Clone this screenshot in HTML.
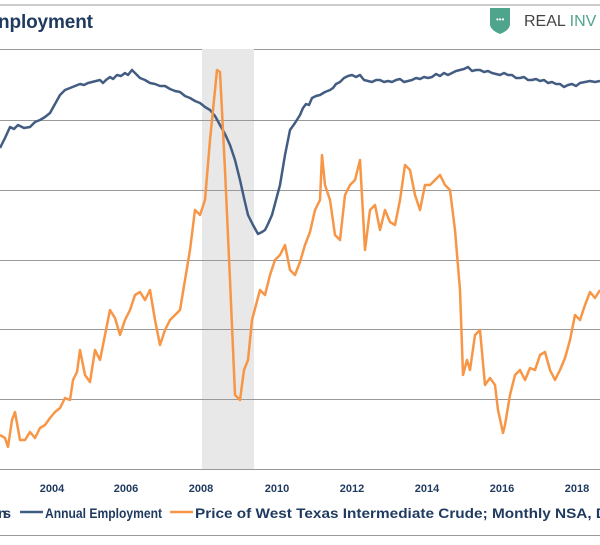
<!DOCTYPE html>
<html><head><meta charset="utf-8"><style>
body{margin:0;width:600px;height:540px;background:#fff;overflow:hidden;font-family:"Liberation Sans",sans-serif}
</style></head><body>
<svg width="600" height="540" xmlns="http://www.w3.org/2000/svg">
<line x1="0" y1="5" x2="600" y2="5" stroke="#999" stroke-width="1"/>
<text x="-2" y="28" font-family="Liberation Sans, sans-serif" font-weight="bold" font-size="19" fill="#1f3a5f" textLength="95">nployment</text>
<path d="M490 8 L510 8 L510 24 Q510 30 500 34 Q490 30 490 24 Z" fill="#4fa58c"/>
<text x="496" y="22" font-size="8" fill="#fff">•••</text>
<text x="524" y="26" font-size="16" fill="#444">REAL <tspan fill="#4fa58c">INV</tspan></text>
<rect x="202" y="49" width="52" height="420" fill="#e8e8e8"/>
<g stroke="#999" stroke-width="1">
<line x1="0" y1="49.5" x2="202" y2="49.5"/><line x1="254" y1="49.5" x2="600" y2="49.5"/>
<line x1="0" y1="120.5" x2="600" y2="120.5"/><line x1="0" y1="190.5" x2="600" y2="190.5"/>
<line x1="0" y1="260.5" x2="600" y2="260.5"/><line x1="0" y1="329.5" x2="600" y2="329.5"/>
<line x1="0" y1="399.5" x2="600" y2="399.5"/><line x1="0" y1="469.5" x2="600" y2="469.5"/>
<line x1="0" y1="535.5" x2="600" y2="535.5"/>
</g>
<polyline fill="none" stroke="#435d82" stroke-width="2.5" stroke-linejoin="round" points="0,148 5,138 10,127 14,129 18,125 24,128 30,127 35,122 40,120 45,117 50,113 55,104 60,95 65,90 70,88 75,86 80,84 84,85 88,83 92,82 96,81 100,80 103,83 106,80 110,77 113,79 117,75 121,76 125,73 128,75 132,70 136,74 140,78 145,80 150,83 155,84 160,86 165,86 170,89 175,91 180,92 185,96 190,98 195,101 200,103 205,107 210,110 215,116 220,125 225,134 230,145 235,160 240,180 244,198 248,215 253,225 258,234 262,232 265,230 268,224 272,215 276,200 280,185 285,155 290,130 295,123 300,115 303,108 306,104 309,105 312,98 316,96 320,95 325,92 330,90 333,88 336,84 340,82 344,78 348,76 352,75 356,77 360,75 364,80 368,81 372,82 376,80 380,80 384,82 388,81 392,82 396,80 400,79 404,82 408,81 412,80 416,78 420,79 424,77 428,78 432,77 436,74 440,76 444,73 448,75 452,73 456,71 460,70 464,69 468,67 472,71 476,70 480,70 484,72 488,71 492,73 496,74 500,75 504,73 508,75 512,75 516,78 520,78 524,77 528,80 532,80 536,79 540,81 544,80 548,83 552,82 556,84 560,84 564,87 568,85 572,84 576,86 580,83 585,82 590,81 595,82 600,81"/>
<polyline fill="none" stroke="#f79646" stroke-width="2.5" stroke-linejoin="round" points="0,435 5,438 8,447 12,420 15,412 20,440 25,440 30,432 35,438 40,428 45,425 50,418 55,412 60,408 65,398 70,400 73,380 77,372 80,350 85,375 90,382 95,350 100,360 105,335 110,310 115,318 120,335 125,320 130,310 135,295 140,292 145,300 150,290 155,320 160,345 165,330 170,320 175,315 180,310 185,280 190,250 195,210 200,215 205,200 210,140 214,100 217,70 220,72 225,170 230,280 235,395 240,400 244,370 248,360 252,320 256,305 260,290 265,295 270,275 275,260 280,255 285,245 290,270 295,275 300,262 305,245 310,232 315,210 320,200 322,155 325,185 330,200 335,235 340,240 345,195 350,185 355,180 360,160 365,250 370,210 375,205 380,230 385,210 390,222 395,225 400,200 405,165 410,170 415,195 420,210 425,185 430,185 435,180 440,175 445,185 450,190 455,230 460,290 463,375 467,360 470,370 475,335 480,330 485,385 490,378 495,385 498,410 503,433 505,425 510,395 515,375 520,370 525,380 530,368 535,370 540,355 545,352 550,370 555,380 560,370 565,358 570,340 575,315 580,320 585,305 590,292 595,298 600,290"/>
<g font-family="Liberation Sans, sans-serif" font-weight="bold" font-size="11" fill="#1f3a5f" text-anchor="middle">
<text x="52" y="492">2004</text><text x="126" y="492">2006</text><text x="201" y="492">2008</text><text x="277" y="492">2010</text><text x="352" y="492">2012</text><text x="427" y="492">2014</text><text x="502" y="492">2016</text><text x="577" y="492">2018</text>
</g>
<g font-family="Liberation Sans, sans-serif" font-weight="bold" font-size="14" fill="#1f3a5f">
<text x="-2" y="518" textLength="13">ns</text>
<line x1="20" y1="512" x2="43" y2="512" stroke="#435d82" stroke-width="2.5"/>
<text x="45" y="518" textLength="117" lengthAdjust="spacingAndGlyphs">Annual Employment</text>
<line x1="170" y1="512" x2="193" y2="512" stroke="#f79646" stroke-width="2.5"/>
<text x="195" y="518" textLength="412" lengthAdjust="spacingAndGlyphs">Price of West Texas Intermediate Crude; Monthly NSA, D</text>
</g>
</svg>
</body></html>
